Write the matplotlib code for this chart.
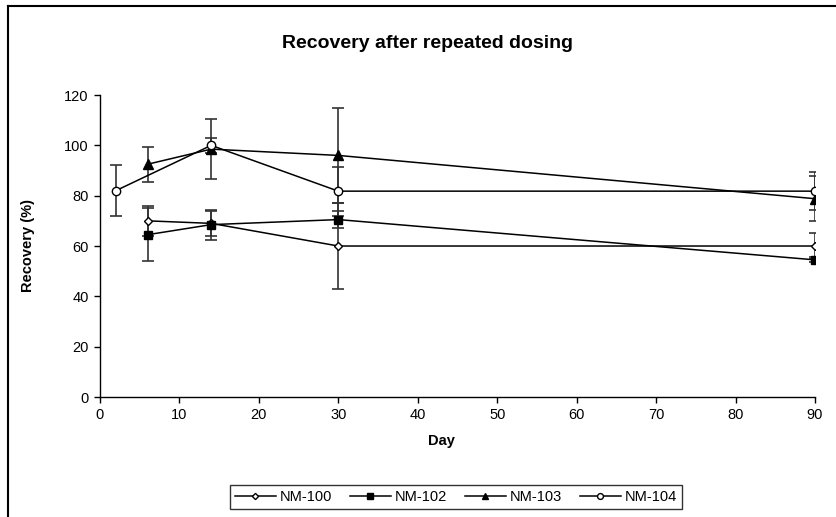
import matplotlib
matplotlib.use('Agg')
import matplotlib.pyplot as plt
from matplotlib.lines import Line2D

plt.rcParams['font.family'] = ['Liberation Sans', 'DejaVu Sans']

# data
days_100 = [6, 14, 30, 90]
nm100 = [70, 69, 60, 60]
nm100_err = [6, 5, 17, 5.3]

days_102 = [6, 14, 30, 90]
nm102 = [64.5, 68.5, 70.5, 54.5]
nm102_err = [10.5, 6, 3.5, 1]

days_103 = [6, 14, 30, 90]
nm103 = [92.5, 98.5, 96, 78.8]
nm103_err = [7, 12, 19, 9]

days_104 = [2, 14, 30, 90]
nm104 = [82, 100, 81.8, 81.8]
nm104_err = [10, 3, 9.7, 7.5]

fig = plt.figure(figsize=(8.36, 5.17), dpi=100)
ax = fig.add_axes([0.1196, 0.2321, 0.8553, 0.5841])

series = [
    ('NM-100', days_100, nm100, nm100_err, dict(marker='D', mfc='white', ms=4.5)),
    ('NM-102', days_102, nm102, nm102_err, dict(marker='s', mfc='black', ms=5.5)),
    ('NM-103', days_103, nm103, nm103_err, dict(marker='^', mfc='black', ms=7)),
    ('NM-104', days_104, nm104, nm104_err, dict(marker='o', mfc='white', ms=6)),
]
handles = []
for name, x, y, e, style in series:
    ax.errorbar(x, y, yerr=e, fmt='none', ecolor='#333333', elinewidth=1.2,
                capsize=4, capthick=1.2, zorder=2)
    ln, = ax.plot(x, y, color='black', lw=1.1, mec='black', mew=1.0,
                  label=name, zorder=3, **style)
    handles.append(ln)

ax.set_xlim(0, 90)
ax.set_ylim(0, 120)
ax.set_xticks(range(0, 91, 10))
ax.set_yticks(range(0, 121, 20))
ax.spines['top'].set_visible(False)
ax.spines['right'].set_visible(False)
for s in ('left', 'bottom'):
    ax.spines[s].set_linewidth(1.0)
ax.tick_params(direction='out', length=4, width=1.0, labelsize=10.5, pad=4)

# axis titles and chart title
fig.text(441 / 836, 1 - 441 / 517, 'Day', ha='center', va='center',
         fontsize=10.5, fontweight='bold')
fig.text(28 / 836, 1 - 246 / 517, 'Recovery (%)', ha='center', va='center',
         rotation=90, fontsize=10.5, fontweight='bold')
fig.text(428 / 836, 1 - 43 / 517, 'Recovery after repeated dosing', ha='center',
         va='center', fontsize=14, fontweight='bold')

leg = fig.legend(handles=handles, loc='center', bbox_to_anchor=(456 / 836, 1 - 497 / 517),
                 ncol=4, fontsize=10.5, frameon=True, fancybox=False,
                 edgecolor='black', handlelength=2.8, handletextpad=0.3,
                 columnspacing=1.2, borderpad=0.35, markerscale=0.7)
leg.get_frame().set_linewidth(1.0)

# outer chart border (left and top edges visible)
fig.add_artist(Line2D([0.0096, 0.0096], [0, 0.988], transform=fig.transFigure,
                      color='black', lw=1.5))
fig.add_artist(Line2D([0.0096, 1.0], [0.988, 0.988], transform=fig.transFigure,
                      color='black', lw=1.5))

fig.savefig('out.png', dpi=100)
